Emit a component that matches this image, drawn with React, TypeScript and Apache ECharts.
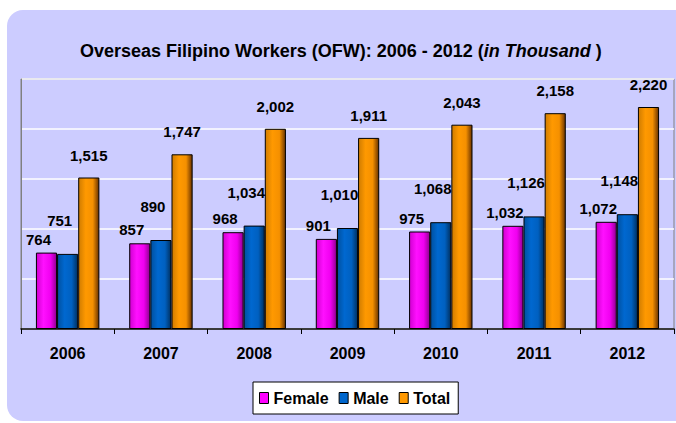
import React, { useEffect, useRef } from "react";
import * as echarts from "echarts";

const categories = ["2006", "2007", "2008", "2009", "2010", "2011", "2012"];
const female = [764, 857, 968, 901, 975, 1032, 1072];
const male = [751, 890, 1034, 1010, 1068, 1126, 1148];
const total = [1515, 1747, 2002, 1911, 2043, 2158, 2220];

const FONT = "Arial, 'Liberation Sans', sans-serif";

function grad(c0: string, c1: string, c2: string, c3: string) {
  return new echarts.graphic.LinearGradient(0, 0, 1, 0, [
    { offset: 0, color: c0 },
    { offset: 0.35, color: c1 },
    { offset: 0.7, color: c2 },
    { offset: 1, color: c3 },
  ]);
}

const fmt = (p: any) => Number(p.value).toLocaleString("en-US");

export default function App() {
  const ref = useRef<HTMLDivElement>(null);
  useEffect(() => {
    if (!ref.current) return;
    document.body.style.margin = "0";
    const chart = echarts.init(ref.current, null, { renderer: "svg" });
    const labelBase = {
      show: true,
      position: "top" as const,
      color: "#000",
      fontFamily: FONT,
      fontWeight: "bold" as const,
      fontSize: 15,
      formatter: fmt,
    };
    chart.setOption({
      animation: false,
      title: {
        left: 80,
        top: 42,
        padding: 0,
        text: "{b|Overseas Filipino Workers (OFW): 2006 - 2012 (}{i|in Thousand}{b| )}",
        textStyle: {
          rich: {
            b: { fontFamily: FONT, fontWeight: "bold", fontSize: 18, color: "#000" },
            i: { fontFamily: FONT, fontWeight: "bold", fontStyle: "italic", fontSize: 18, color: "#000" },
          },
        },
      },
      legend: {
        left: 253,
        top: 382,
        padding: [8, 8, 8, 6],
        backgroundColor: "#FFFFFF",
        borderColor: "#000",
        borderWidth: 1,
        borderRadius: 0,
        itemWidth: 9,
        itemHeight: 11,
        itemGap: 10,
        icon: "rect",
        textStyle: { fontFamily: FONT, fontWeight: "bold", fontSize: 16, color: "#000" },
        data: [
          { name: "Female", itemStyle: { color: "#FF00FF", borderColor: "#000", borderWidth: 1 } },
          { name: "Male", itemStyle: { color: "#0066CC", borderColor: "#000", borderWidth: 1 } },
          { name: "Total", itemStyle: { color: "#FF9900", borderColor: "#000", borderWidth: 1 } },
        ],
      },
      grid: {
        left: 21,
        right: 2,
        top: 79,
        bottom: 94,
        show: true,
        borderColor: "#808080",
        borderWidth: 1,
        backgroundColor: "transparent",
      },
      xAxis: {
        type: "category",
        data: categories,
        axisLine: { lineStyle: { color: "#000", width: 1.5 } },
        axisTick: { show: true, length: 5, lineStyle: { color: "#000" } },
        axisLabel: {
          margin: 16,
          color: "#000",
          fontFamily: FONT,
          fontWeight: "bold",
          fontSize: 16,
        },
      },
      yAxis: {
        type: "value",
        min: 0,
        max: 2500,
        interval: 500,
        axisLine: { show: true, lineStyle: { color: "#808080" } },
        axisTick: { show: false },
        axisLabel: { show: false },
        splitLine: { lineStyle: { color: "#FFFFFF", width: 1.5 } },
      },
      series: [
        {
          name: "Female",
          type: "bar",
          data: female,
          barGap: "0%",
          barCategoryGap: "32%",
          itemStyle: {
            color: grad("#D000D0", "#FF10FF", "#F000F0", "#900090"),
            borderColor: "#000",
            borderWidth: 1,
          },
          label: { ...labelBase, distance: 6, offset: [-8, 0] },
        },
        {
          name: "Male",
          type: "bar",
          data: male,
          barGap: "0%",
          barCategoryGap: "32%",
          itemStyle: {
            color: grad("#00509F", "#0068D0", "#0060C0", "#003060"),
            borderColor: "#000",
            borderWidth: 1,
          },
          label: { ...labelBase, distance: 26, offset: [-8, 0] },
        },
        {
          name: "Total",
          type: "bar",
          data: total,
          barGap: "0%",
          barCategoryGap: "32%",
          itemStyle: {
            color: grad("#D07C00", "#FF9900", "#F59000", "#6A3300"),
            borderColor: "#000",
            borderWidth: 1,
          },
          label: { ...labelBase, distance: 15 },
        },
      ],
    });
    return () => chart.dispose();
  }, []);
  return (
    <div
      style={{
        position: "absolute",
        left: 0,
        top: 0,
        width: 676,
        height: 423,
        overflow: "hidden",
        background: "#FFFFFF",
      }}
    >
      <div
        style={{
          position: "absolute",
          left: 7,
          top: 10,
          width: 760,
          height: 411,
          borderRadius: 16,
          background: "#CCCCFF",
        }}
      />
      <div ref={ref} style={{ position: "absolute", left: 0, top: 0, width: 676, height: 423 }} />
    </div>
  );
}
